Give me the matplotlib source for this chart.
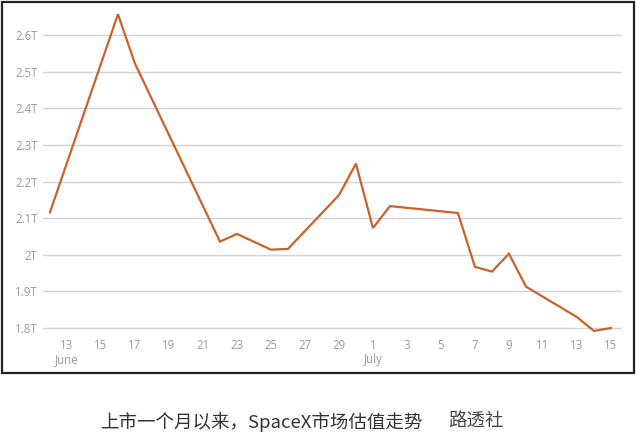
import numpy as np
import matplotlib
matplotlib.use("Agg")
import matplotlib.pyplot as plt
import matplotlib.dates as mdates
from matplotlib.patches import Rectangle

dates = ["2025-06-12", "2025-06-16", "2025-06-17", "2025-06-22", "2025-06-23",
         "2025-06-25", "2025-06-26", "2025-06-29", "2025-06-30", "2025-07-01",
         "2025-07-02", "2025-07-06", "2025-07-07", "2025-07-08", "2025-07-09",
         "2025-07-10", "2025-07-13", "2025-07-14", "2025-07-15"]
values = [2.116, 2.657, 2.522, 2.036, 2.057,
          2.014, 2.016, 2.163, 2.249, 2.073,
          2.133, 2.114, 1.967, 1.954, 2.003,
          1.913, 1.830, 1.792, 1.800]
ytick_vals = [1.8, 1.9, 2.0, 2.1, 2.2, 2.3, 2.4, 2.5, 2.6]
ytick_labels = ["1.8T", "1.9T", "2T", "2.1T", "2.2T", "2.3T", "2.4T", "2.5T", "2.6T"]
xtick_dates = ["2025-06-13", "2025-06-15", "2025-06-17", "2025-06-19", "2025-06-21",
               "2025-06-23", "2025-06-25", "2025-06-27", "2025-06-29", "2025-07-01",
               "2025-07-03", "2025-07-05", "2025-07-07", "2025-07-09", "2025-07-11",
               "2025-07-13", "2025-07-15"]
xtick_labels = ["13\nJune", "15", "17", "19", "21", "23", "25", "27", "29", "1\nJuly",
                "3", "5", "7", "9", "11", "13", "15"]
caption = "上市一个月以来，SpaceX市场估值走势"
source = "路透社"

W, H = 636, 442
fig = plt.figure(figsize=(W / 100, H / 100), dpi=100)
fig.patch.set_facecolor("white")

# frame around chart area
fig.patches.append(Rectangle((1.5 / W, 1 - 373 / H), 632.5 / W, 371.5 / H,
                             transform=fig.transFigure, fill=False,
                             edgecolor="#222222", linewidth=1.6, zorder=0))

ax = fig.add_axes([43 / W, 1 - 333.5 / H, (622 - 43) / W, (333.5 - 8) / H])
x = np.array(dates, dtype="datetime64[D]").astype("O")
ax.plot(x, values, color="#C9622B", linewidth=1.6, solid_joinstyle="miter", zorder=3)

x0 = np.datetime64("2025-06-12")
ax.set_xlim(mdates.date2num(x0) - 0.41, mdates.date2num(x0) + 33.65)
ax.set_ylim(1.785, 2.674)

ax.set_yticks(ytick_vals)
ax.set_yticklabels(ytick_labels)
ax.set_xticks(np.array(xtick_dates, dtype="datetime64[D]").astype("O"))
ax.set_xticklabels(xtick_labels, linespacing=1.1)

for s in ax.spines.values():
    s.set_visible(False)
ax.grid(axis="y", color="#d4d4d4", linewidth=1.0)
ax.set_axisbelow(True)
ax.tick_params(axis="both", length=0, colors="#9a9a9a", labelsize=8.3)
ax.tick_params(axis="y", pad=4)
ax.tick_params(axis="x", pad=4)
for lab in ax.get_xticklabels() + ax.get_yticklabels():
    lab.set_family(["Open Sans", "DejaVu Sans"])

fig.text(100 / W, 1 - 422 / H, caption, fontsize=13.3, color="#333333",
         family=["Noto Sans CJK SC", "DejaVu Sans"], ha="left", va="center")
fig.text(448 / W, 1 - 422 / H, source, fontsize=13.3, color="#444444",
         family=["Noto Sans CJK SC", "DejaVu Sans"], ha="left", va="center")

fig.savefig("out.png", dpi=100)
